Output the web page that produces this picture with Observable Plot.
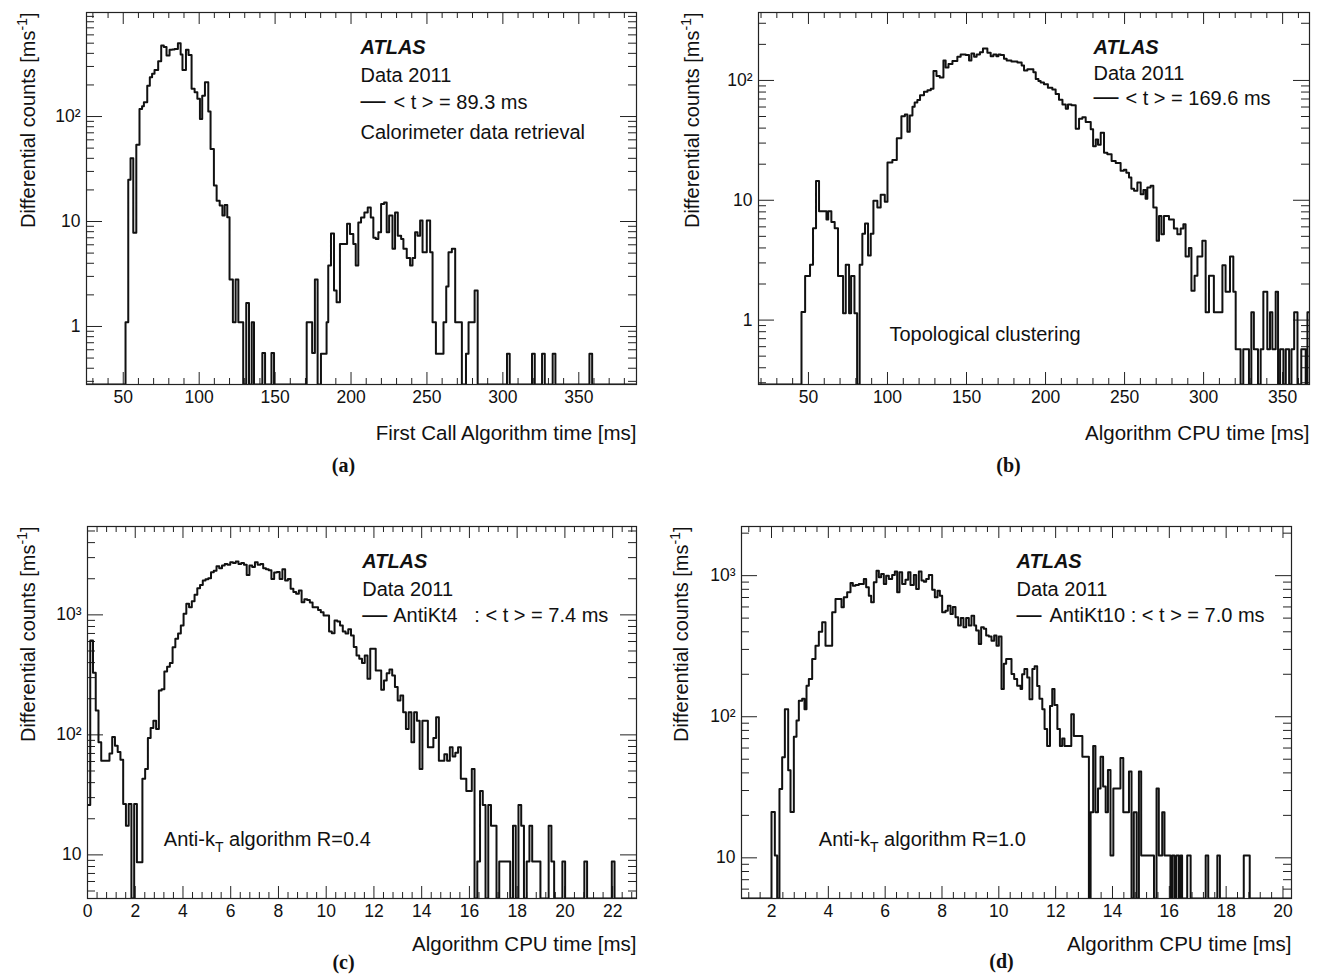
<!DOCTYPE html>
<html>
<head>
<meta charset="utf-8">
<script src="https://cdn.jsdelivr.net/npm/d3@7"></script>
<script src="https://cdn.jsdelivr.net/npm/@observablehq/plot@0.6"></script>
<style>
  html, body { margin: 0; padding: 0; background: #fff; }
  #page { position: relative; width: 1320px; height: 980px; overflow: hidden; background: #fff; }
</style>
</head>
<body>
<div id="page"></div>
<script>
// ---------------- DATA ----------------
// (a) First call calorimeter data retrieval: step start [ms] and differential counts [1/ms]
const aT = [25.8, 51.5, 53.3, 54.8, 56.6, 58.6, 60.7, 62.4, 63.6, 65.8, 67.5, 69.0, 70.6, 73.0, 75.0, 76.7, 78.5, 80.5, 82.2, 83.8,
  86.0, 87.8, 89.0, 91.3, 93.0, 95.0, 97.0, 98.8, 100.5, 102.0, 103.8, 106.0, 107.5, 109.7, 111.5, 113.5, 115.3, 116.8, 118.5, 120.0,
  122.2, 124.0, 125.8, 129.0, 131.0, 132.8, 134.6, 136.1, 141.6, 143.4, 147.6, 149.3, 170.8, 174.4, 176.2, 178.0, 180.2, 183.9, 185.0, 186.8,
  188.8, 190.5, 192.7, 197.4, 199.3, 201.5, 203.1, 204.8, 206.6, 208.8, 211.0, 213.0, 214.7, 216.3, 218.0, 219.8, 221.8, 223.5, 225.1, 227.3,
  229.0, 230.8, 233.0, 234.5, 236.7, 238.9, 240.5, 242.2, 243.8, 245.5, 247.1, 249.9, 252.1, 253.7, 255.9, 260.9, 262.7, 264.2, 266.4, 268.6,
  273.0, 275.7, 277.4, 281.4, 283.4, 302.7, 304.5, 319.2, 321.0, 325.8, 327.6, 332.8, 334.6, 357.0, 358.8];
const aN = [0, 1.1, 25, 40, 7.8, 54, 118, 125, 137, 197, 237, 255, 278, 336, 474, 460, 381, 432, 436, 441,
  500, 390, 278, 432, 385, 184, 170, 148, 95, 158, 212, 112, 49, 22, 15.8, 14.2, 11.4, 14.4, 11, 2.8,
  1.1, 2.8, 1.1, 0, 1.67, 0, 1.1, 0, 0.56, 0, 0.56, 0, 1.1, 0.56, 2.8, 0, 0.55, 1.1, 3.8, 7.7,
  2.2, 1.7, 6.1, 9.5, 7.6, 6.1, 3.8, 9.8, 10.9, 12.2, 13.6, 10.9, 7.0, 6.8, 7.9, 14.7, 15.2, 7.9, 11.4, 5.5,
  12.2, 7.3, 6.8, 5.5, 4.5, 3.8, 4.5, 7.9, 7.3, 10.2, 5.1, 10.2, 5.1, 1.1, 0.55, 1.1, 2.4, 5.1, 5.5, 1.1,
  0, 0.55, 1.1, 2.2, 0, 0.55, 0, 0.55, 0, 0.55, 0, 0.55, 0, 0.55, 0];

// (b) Topological clustering
const bT = [18.4, 45.6, 47.9, 51.0, 52.9, 54.8, 56.7, 61.4, 62.5, 64.5, 66.6, 68.7, 71.9, 73.6, 75.7, 77.0, 79.1, 80.8, 82.4, 84.1,
  85.8, 87.7, 89.4, 91.1, 93.6, 95.7, 98.3, 100.0, 103.1, 105.9, 108.8, 111.0, 112.6, 114.1, 115.8, 117.2, 118.9, 120.6, 123.1, 125.3,
  127.4, 129.1, 131.0, 133.1, 135.4, 136.8, 138.6, 141.1, 144.2, 146.3, 149.5, 151.6, 153.1, 154.8, 156.4, 158.5, 160.4, 163.2, 165.3, 167.0,
  168.9, 170.2, 171.6, 173.7, 175.4, 178.4, 182.2, 184.9, 186.4, 188.5, 192.3, 193.8, 195.5, 196.9, 199.0, 201.5, 204.3, 206.4, 208.5, 210.7,
  212.8, 214.2, 216.4, 219.1, 221.2, 223.3, 225.4, 228.6, 230.1, 231.8, 233.2, 234.9, 237.0, 239.1, 241.8, 244.4, 247.5, 249.6, 251.1, 252.8,
  254.3, 256.0, 258.1, 260.2, 261.9, 263.3, 264.4, 266.5, 268.2, 270.3, 271.8, 273.3, 274.9, 278.1, 281.2, 283.4, 285.5, 287.2, 288.6, 290.7,
  292.3, 294.3, 296.1, 299.2, 301.3, 303.4, 306.5, 311.9, 313.9, 316.7, 318.8, 320.3, 323.4, 325.1, 328.7, 330.2, 331.8, 334.4, 336.1, 337.8,
  340.3, 342.0, 343.5, 345.6, 347.1, 348.4, 350.5, 352.0, 354.1, 355.6, 357.3, 359.4, 361.8, 364.6, 365.7];
const bN = [0, 1.17, 2.33, 2.89, 5.85, 14.5, 8.1, 6.9, 8.1, 6.6, 5.85, 2.33, 1.14, 2.89, 1.14, 2.33, 1.14, 0, 2.89, 5.25,
  6.4, 3.46, 5.25, 9.9, 8.7, 11.1, 9.7, 20.7, 21.7, 32.9, 50.3, 51.9, 37.3, 50.9, 60.3, 65.6, 68.8, 75.3, 80.5, 82.9,
  85.3, 120, 109, 106, 147, 128, 137, 145, 158, 165, 163, 147, 168, 158, 165, 172, 185, 170, 159, 165,
  159, 165, 163, 152, 147, 144, 141, 133, 121, 124, 117, 103, 99, 96, 93, 87, 84, 77, 69, 63,
  58, 63, 62, 39.6, 47.8, 49.4, 44.9, 39.2, 28.3, 32.2, 29, 36.6, 24.9, 24.2, 21.3, 20.5, 17.6, 18, 17, 15.5,
  12.5, 12, 14.1, 11.2, 12.2, 10.3, 12.8, 13.2, 8.7, 4.6, 7.4, 5.2, 7.4, 6.9, 5.8, 5.2, 5.8, 6.3, 3.4, 4.0,
  1.76, 2.34, 3.4, 4.6, 1.16, 2.34, 1.16, 2.87, 1.72, 3.4, 1.72, 0.57, 0, 0.57, 0, 1.16, 0.57, 0, 0.57, 1.72,
  0.57, 1.16, 0.57, 1.72, 0, 0.57, 0, 0.57, 0, 0.57, 1.16, 0, 0.57, 0, 1.16];

// (c) Anti-kT R=0.4: 200 uniform bins of 0.115 ms from 0
const cBinWidth = 0.115;
const cN = [26, 611, 329, 160, 87, 61, 61, 61, 70, 96,
  81, 72, 62, 26.6, 17.5, 26.6, 0, 26.6, 8.7, 8.7,
  43, 52, 94, 114, 131, 112, 234, 240, 337, 370,
  398, 538, 631, 700, 815, 1020, 1235, 1160, 1300, 1468,
  1668, 1778, 1933, 1980, 2022, 2270, 2330, 2544, 2447, 2580,
  2660, 2610, 2750, 2710, 2780, 2660, 2700, 2620, 2150, 2580,
  2500, 2750, 2620, 2660, 2450, 2400, 2350, 1995, 2250, 2280,
  1995, 2400, 1930, 1995, 1650, 1550, 1500, 1600, 1275, 1350,
  1330, 1270, 1160, 1160, 1100, 1052, 987, 987, 726, 704,
  897, 880, 815, 726, 700, 760, 673, 540, 458, 430,
  398, 458, 293, 521, 521, 344, 344, 238, 284, 326,
  350, 312, 250, 193, 213, 154, 112, 154, 87, 154,
  131, 52, 131, 131, 79, 79, 94, 140, 61, 61,
  69, 61, 79, 66, 71, 79, 43, 43, 34, 34,
  52, 0, 8.8, 34, 26, 0, 26, 17.5, 17.5, 0,
  8.8, 8.8, 8.8, 8.8, 0, 17.5, 0, 26, 17.5, 0,
  8.8, 17.5, 8.8, 8.8, 8.8, 0, 0, 0, 17.5, 8.8,
  0, 0, 0, 8.8, 0, 0, 0, 0, 0, 0,
  0, 8.8, 0, 0, 0, 0, 0, 0, 0, 0,
  0, 8.8, 0, 0, 0, 0, 0, 0, 0, 0];

// (d) Anti-kT R=1.0
const dT = [0.944, 2.0, 2.117, 2.2, 2.28, 2.375, 2.47, 2.587, 2.669, 2.786, 2.88, 2.962, 3.079, 3.161, 3.232, 3.314, 3.431, 3.548, 3.666, 3.783,
  3.9, 4.135, 4.252, 4.463, 4.545, 4.663, 4.78, 4.862, 4.956, 5.073, 5.249, 5.331, 5.425, 5.507, 5.601, 5.695, 5.777, 5.859, 5.953, 6.035,
  6.129, 6.246, 6.34, 6.422, 6.504, 6.598, 6.715, 6.809, 6.891, 7.009, 7.091, 7.185, 7.279, 7.361, 7.443, 7.537, 7.654, 7.748, 7.842, 7.924,
  8.006, 8.123, 8.205, 8.299, 8.381, 8.475, 8.569, 8.663, 8.756, 8.85, 8.944, 9.038, 9.132, 9.202, 9.296, 9.378, 9.472, 9.554, 9.648, 9.742,
  9.836, 9.918, 10.0, 10.094, 10.176, 10.258, 10.35, 10.446, 10.54, 10.645, 10.765, 10.82, 10.9, 11.0, 11.08, 11.18, 11.26, 11.35, 11.43, 11.53,
  11.61, 11.70, 11.80, 11.88, 11.96, 12.06, 12.15, 12.23, 12.31, 12.55, 12.64, 12.94, 13.17, 13.23, 13.32, 13.4, 13.49, 13.58, 13.67, 13.76,
  13.84, 13.93, 14.03, 14.28, 14.38, 14.58, 14.67, 14.75, 14.85, 14.93, 15.01, 15.46, 15.55, 15.63, 15.75, 15.83, 16.04, 16.1, 16.18, 16.25,
  16.34, 16.4, 16.45, 16.63, 16.75, 17.28, 17.37, 17.69, 17.78, 18.62, 18.83];
const dN = [0, 21.1, 10.4, 0, 30.8, 51.6, 113, 41.8, 21.1, 72, 94, 130, 134, 113, 166, 185, 257, 319, 401, 467,
  319, 550, 683, 596, 702, 762, 887, 849, 858, 873, 947, 827, 721, 647, 897, 1085, 974, 1028, 873, 1000,
  947, 1011, 1068, 762, 1056, 873, 937, 1056, 858, 1011, 804, 1068, 922, 907, 947, 1011, 796, 702, 783, 721,
  550, 565, 613, 535, 600, 507, 443, 500, 431, 500, 443, 520, 443, 408, 328, 431, 420, 376, 370, 346,
  376, 319, 370, 157, 237, 257, 257, 201, 185, 166, 157, 200, 218, 190, 133, 218, 228, 165, 134, 113,
  82, 62, 119, 157, 121, 82, 62, 70, 62, 104, 73, 52, 0, 21, 62, 21, 31, 52, 32, 21,
  42, 10.4, 31, 51, 21, 41, 0, 21, 0, 41, 10.4, 0, 31, 10.4, 21, 10.4, 0, 10.4, 0, 10.4,
  0, 10.4, 0, 10.4, 0, 10.4, 0, 10.4, 0, 10.4, 0];

// Tick labels
const aXTicks = [50, 100, 150, 200, 250, 300, 350];
const bXTicks = [50, 100, 150, 200, 250, 300, 350];
const cXTicks = [0, 2, 4, 6, 8, 10, 12, 14, 16, 18, 20, 22];
const dXTicks = [2, 4, 6, 8, 10, 12, 14, 16, 18, 20];

// Texts
const yTitle = "Differential counts [ms^{-1}]";
const xTitles = ["First Call Algorithm time [ms]", "Algorithm CPU time [ms]", "Algorithm CPU time [ms]", "Algorithm CPU time [ms]"];
const panelLetters = ["(a)", "(b)", "(c)", "(d)"];
const experiment = "ATLAS";
const dataset = "Data 2011";
const legendTexts = ["< t > = 89.3 ms", "< t > = 169.6 ms", "AntiKt4\u00a0\u00a0\u00a0: < t > = 7.4 ms", "AntiKt10 : < t > = 7.0 ms"];
const captions = ["Calorimeter data retrieval", "Topological clustering", "Anti-k_{T} algorithm R=0.4", "Anti-k_{T} algorithm R=1.0"];

// ---------------- DRAWING ----------------
const SANS = "'Liberation Sans', Arial, Helvetica, sans-serif";
const SERIF = "'Liberation Serif', 'Times New Roman', Times, serif";
const SUP = "⁰¹²³⁴⁵⁶⁷⁸⁹";
const TXT = 20;
const yFmt = d => {
  const e = Math.round(Math.log10(d));
  return e === 0 ? "1" : e === 1 ? "10" : "10" + String(e).split("").map(c => SUP[+c]).join("");
};

function richify(svg) {
  d3.select(svg).selectAll("text").each(function () {
    const s = this.textContent;
    if (!/[_^]\{/.test(s)) return;
    const parts = s.split(/([_^]\{[^}]*\})/).filter(x => x !== "");
    const el = d3.select(this);
    el.text(null);
    let shift = 0;
    for (const part of parts) {
      const m = part.match(/^([_^])\{([^}]*)\}$/);
      if (m) {
        const d = m[1] === "_" ? 6 : -8;
        el.append("tspan").attr("dy", d - shift).attr("font-size", "0.7em").text(m[2]);
        shift = d;
      } else {
        const t = el.append("tspan").text(part);
        if (shift) t.attr("dy", -shift);
        shift = 0;
      }
    }
  });
}

function makePanel(p) {
  const W = 660, H = 490;
  const fw = W - p.ml - p.mr, fh = H - p.mt - p.mb;
  const fx = p.left + p.ml, fy = p.top + p.mt, fb = fy + fh;
  const floor = p.yDomain[0];
  const pts = p.t.map((t, i) => ({t, n: p.n[i] > 0 ? p.n[i] : floor}));
  pts.push({t: p.tEnd, n: pts[pts.length - 1].n});

  const xMinor = d3.range(Math.ceil(p.xDomain[0] / p.xMinorStep - 1e-9), Math.floor(p.xDomain[1] / p.xMinorStep + 1e-9) + 1)
    .map(k => +(k * p.xMinorStep).toFixed(6))
    .filter(v => v >= p.xDomain[0] && v <= p.xDomain[1] && !p.xTicks.some(m => Math.abs(m - v) < 1e-6));
  const yMajor = [], yMinor = [];
  for (let e = Math.floor(Math.log10(p.yDomain[0])); e <= Math.ceil(Math.log10(p.yDomain[1])); e++) {
    const b = Math.pow(10, e);
    if (b >= p.yDomain[0] && b <= p.yDomain[1]) yMajor.push(b);
    for (let m = 2; m <= 9; m++) { const v = m * b; if (v > p.yDomain[0] && v < p.yDomain[1]) yMinor.push(v); }
  }
  const tk = {stroke: "#222", strokeWidth: 1};
  const note = (s, x, y, o = {}) => Plot.text([s], {text: d => d, frameAnchor: "top-left", dx: x - fx, dy: y - fy,
    textAnchor: "start", lineAnchor: "bottom", fontSize: TXT, fill: "#111", ...o});

  const marks = [
    Plot.tickX(p.xTicks, {x: d => d, insetTop: fh - 12, ...tk}),
    Plot.tickX(p.xTicks, {x: d => d, insetBottom: fh - 12, ...tk}),
    Plot.tickX(xMinor, {x: d => d, insetTop: fh - 6, ...tk}),
    Plot.tickX(xMinor, {x: d => d, insetBottom: fh - 6, ...tk}),
    Plot.tickY(yMajor, {y: d => d, insetRight: fw - 16, ...tk}),
    Plot.tickY(yMajor, {y: d => d, insetLeft: fw - 16, ...tk}),
    Plot.tickY(yMinor, {y: d => d, insetRight: fw - 8, ...tk}),
    Plot.tickY(yMinor, {y: d => d, insetLeft: fw - 8, ...tk}),
    Plot.line(pts, {x: "t", y: "n", curve: "step-after", stroke: "#111", strokeWidth: 2, clip: true}),
    Plot.frame({stroke: "#222", strokeWidth: 1.2}),
    Plot.axisX({ticks: p.xTicks, tickSize: 0, tickPadding: 6, tickFormat: d => String(d), label: null}),
    Plot.axisY({ticks: yMajor, tickSize: 0, tickPadding: 6, tickFormat: yFmt, label: null}),
    Plot.text([yTitle], {text: d => d, frameAnchor: "top-left", rotate: -90, textAnchor: "end", lineAnchor: "middle",
      dx: p.yTitleX - fx, dy: 0, fontSize: TXT, fill: "#111"}),
    Plot.text([p.xTitle], {text: d => d, frameAnchor: "bottom-right", textAnchor: "end", lineAnchor: "bottom",
      dy: p.xTitleBase - fb, fontSize: 20.5, fill: "#111"}),
    Plot.text([p.letter], {text: d => d, frameAnchor: "bottom-left", textAnchor: "middle", lineAnchor: "bottom",
      dx: p.letterX - fx, dy: p.letterBase - fb, fontFamily: SERIF, fontWeight: "bold", fontSize: 20, fill: "#111"}),
    note(experiment, p.atlas[0], p.atlas[1], {fontWeight: "bold", fontStyle: "italic"}),
    note(dataset, p.data[0], p.data[1]),
    note("—", p.dash[0], p.dash[1], {fontSize: 25}),
    note(p.legend, p.leg[0], p.leg[1]),
    note(p.caption, p.cap[0], p.cap[1])
  ];

  const svg = Plot.plot({
    width: W, height: H,
    marginLeft: p.ml, marginRight: p.mr, marginTop: p.mt, marginBottom: p.mb,
    x: {domain: p.xDomain},
    y: {type: "log", domain: p.yDomain},
    style: {fontFamily: SANS, fontSize: "17.5px", color: "#111", background: "#fff"},
    marks
  });
  richify(svg);
  svg.style.position = "absolute";
  svg.style.left = p.left + "px";
  svg.style.top = p.top + "px";
  svg.style.maxWidth = "none";
  return svg;
}

const cT = cN.map((_, i) => +(i * cBinWidth).toFixed(4));

const panels = [
  {left: 0, top: 0, ml: 86, mr: 24, mt: 12, mb: 106, xDomain: [25.8, 388], yDomain: [0.28, 980],
   xTicks: aXTicks, xMinorStep: 10, t: aT, n: aN, tEnd: 388,
   xTitle: xTitles[0], xTitleBase: 439, yTitleX: 28, letter: panelLetters[0], letterX: 343, letterBase: 471,
   atlas: [360, 53.5], data: [360, 81.7], dash: [360, 108.5], legend: legendTexts[0], leg: [393, 108], caption: captions[0], cap: [360, 138.3]},
  {left: 660, top: 0, ml: 98, mr: 11, mt: 12, mb: 106, xDomain: [18.4, 367], yDomain: [0.29, 369],
   xTicks: bXTicks, xMinorStep: 10, t: bT, n: bN, tEnd: 367,
   xTitle: xTitles[1], xTitleBase: 439, yTitleX: 692, letter: panelLetters[1], letterX: 1008, letterBase: 471,
   atlas: [1093, 53], data: [1093, 79.5], dash: [1093, 104.5], legend: legendTexts[1], leg: [1125, 104], caption: captions[1], cap: [889, 340.3]},
  {left: 0, top: 490, ml: 87, mr: 24, mt: 36, mb: 82, xDomain: [0, 23], yDomain: [4.33, 5450],
   xTicks: cXTicks, xMinorStep: 0.4, t: cT, n: cN, tEnd: 23,
   xTitle: xTitles[2], xTitleBase: 950, yTitleX: 28, letter: panelLetters[2], letterX: 343, letterBase: 968,
   atlas: [361.7, 567.7], data: [361.7, 595], dash: [361.7, 622.7], legend: legendTexts[2], leg: [392.7, 621.7], caption: captions[2], cap: [163.3, 845]},
  {left: 660, top: 490, ml: 81, mr: 29, mt: 36, mb: 82, xDomain: [0.944, 20.3], yDomain: [5.15, 2230],
   xTicks: dXTicks, xMinorStep: 0.4, t: dT, n: dN, tEnd: 20.3,
   xTitle: xTitles[3], xTitleBase: 950, yTitleX: 681, letter: panelLetters[3], letterX: 1001, letterBase: 967,
   atlas: [1016, 567.7], data: [1016, 595], dash: [1016, 622], legend: legendTexts[3], leg: [1049, 621], caption: captions[3], cap: [818.3, 845]}
];

const page = document.getElementById("page");
for (const p of panels) page.appendChild(makePanel(p));
</script>
</body>
</html>
